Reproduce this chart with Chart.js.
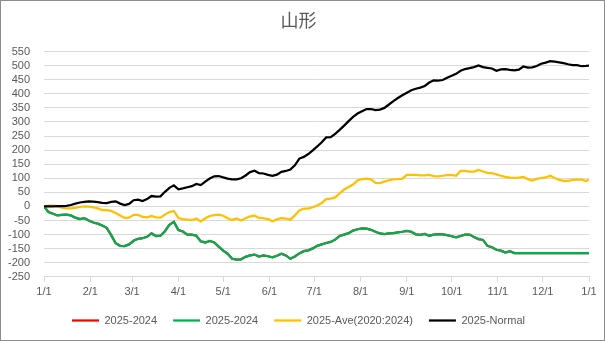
<!DOCTYPE html>
<html>
<head>
<meta charset="utf-8">
<script src="https://cdn.jsdelivr.net/npm/chart.js@4"></script>
<style>
  html, body { margin: 0; padding: 0; background: #fff; }
  #wrap { width: 605px; height: 341px; box-sizing: border-box; border: 1px solid #8c8c8c; }
  canvas { display: block; }
</style>
</head>
<body>
<div id="wrap"><canvas id="chart" width="603" height="339"></canvas></div>
<script>
// day of year (0 = 1/1)
const days = [
  0, 3, 6, 9, 12, 15, 18, 21, 24, 27,
  30, 33, 36, 39, 42, 45, 48, 51, 54, 57,
  60, 63, 66, 69, 72, 75, 78, 81, 84, 87,
  90, 93, 96, 99, 102, 105, 108, 111, 114, 117,
  120, 123, 126, 129, 132, 135, 138, 141, 144, 147,
  150, 153, 156, 159, 162, 165, 168, 171, 174, 177,
  180, 183, 186, 189, 192, 195, 198, 201, 204, 207,
  210, 213, 216, 219, 222, 225, 228, 231, 234, 237,
  240, 243, 246, 249, 252, 255, 258, 261, 264, 267,
  270, 273, 276, 279, 282, 285, 288, 291, 294, 297,
  300, 303, 306, 309, 312, 315, 318, 321, 324, 327,
  330, 333, 336, 339, 342, 345, 348, 351, 354, 357,
  360, 363, 365
];

// 2025-2024 (green, red lies underneath)
const diff2024 = [
  0, -20, -26, -32, -30, -29, -32, -40, -45, -42,
  -50, -57, -61, -68, -76, -102, -131, -140, -141, -135,
  -122, -115, -113, -108, -96, -105, -104, -88, -65, -55,
  -84, -89, -100, -100, -104, -124, -128, -123, -128, -143,
  -157, -168, -186, -189, -188, -179, -174, -171, -178, -174,
  -177, -181, -175, -168, -174, -186, -178, -167, -159, -156,
  -149, -140, -135, -130, -126, -118, -105, -100, -95, -86,
  -81, -78, -79, -83, -90, -96, -98, -96, -95, -92,
  -90, -87, -90, -99, -101, -98, -104, -100, -98, -99,
  -102, -106, -110, -105, -100, -100, -109, -116, -119, -140,
  -145, -154, -157, -164, -159, -166, -166, -166, -166, -166,
  -166, -166, -166, -166, -166, -166, -166, -166, -166, -166,
  -166, -166, -166
];

// 2025-Ave(2020:2024)
const diffAve = [
  0, 3, 3, 0, -4, -7, -7, -5, -2, 0,
  -1, -3, -7, -13, -13, -16, -23, -32, -41, -40,
  -30, -30, -37, -39, -34, -39, -40, -29, -20, -16,
  -41, -45, -47, -49, -43, -53, -42, -34, -31, -29,
  -33, -42, -48, -43, -50, -42, -35, -33, -41, -42,
  -45, -53, -46, -42, -43, -47, -32, -14, -8, -8,
  -3, 3, 12, 26, 28, 32, 46, 60, 69, 78,
  92, 97, 99, 96, 84, 83, 88, 93, 96, 97,
  99, 112, 112, 112, 110, 110, 112, 108, 107, 109,
  111, 112, 109, 126, 126, 124, 124, 130, 124, 119,
  118, 114, 109, 105, 102, 101, 102, 105, 97, 92,
  98, 101, 103, 109, 101, 94, 91, 91, 94, 95,
  95, 90, 95
];

// 2025-Normal
const diffNormal = [
  0, 0, 0, 1, 1, 2, 5, 10, 14, 16,
  18, 17, 15, 13, 12, 16, 18, 10, 5, 9,
  22, 24, 19, 26, 37, 35, 36, 52, 66, 75,
  61, 64, 68, 72, 80, 76, 88, 99, 107, 108,
  103, 99, 96, 96, 100, 110, 122, 127, 118, 117,
  112, 109, 113, 123, 126, 131, 146, 170, 176, 186,
  199, 213, 228, 245, 246, 258, 272, 287, 303, 318,
  330, 338, 346, 346, 342, 344, 350, 362, 374, 385,
  395, 404, 413, 418, 422, 428, 440, 448, 447, 449,
  457, 464, 471, 482, 488, 491, 495, 501, 495, 492,
  490, 482, 487, 488, 485, 483, 486, 497, 493, 494,
  499, 507, 511, 516, 514, 512, 509, 505, 502, 502,
  498, 499, 500
];

// x axis ticks
const monthDays = [0, 31, 59, 90, 120, 151, 181, 212, 243, 273, 304, 334, 365];
const monthLabels = ["1/1", "2/1", "3/1", "4/1", "5/1", "6/1", "7/1", "8/1", "9/1", "10/1", "11/1", "12/1", "1/1"];

const seriesNames = ["2025-2024", "2025-2024", "2025-Ave(2020:2024)", "2025-Normal"];
const seriesColors = ["#ff0000", "#00b050", "#ffc000", "#000000"];
const seriesValues = [diff2024, diff2024, diffAve, diffNormal];

const textColor = "#595959";
const gridColor = "#d9d9d9";
const font = "'Liberation Sans', Arial, sans-serif";

function toPoints(vals) {
  return days.map((d, i) => ({ x: d, y: vals[i] }));
}

new Chart(document.getElementById("chart").getContext("2d"), {
  type: "line",
  data: {
    datasets: seriesNames.map((name, i) => ({
      label: name,
      data: toPoints(seriesValues[i]),
      borderColor: seriesColors[i],
      backgroundColor: seriesColors[i],
      borderWidth: 2.25,
      pointRadius: 0,
      tension: 0,
      // later series painted on top, like Excel
      order: seriesNames.length - i,
    })),
  },
  options: {
    responsive: false,
    animation: false,
    devicePixelRatio: 1,
    layout: { padding: { left: 7, right: 15, top: 0, bottom: 4 } },
    plugins: {
      title: {
        display: true,
        text: "山形",
        color: textColor,
        font: { family: "'Noto Sans CJK JP', sans-serif", size: 18, weight: "normal" },
        padding: { top: 8, bottom: 21 },
      },
      legend: {
        position: "bottom",
        labels: {
          color: textColor,
          font: { family: font, size: 11 },
          usePointStyle: true,
          pointStyle: "line",
          pointStyleWidth: 27,
          padding: 16,
          sort: (a, b) => a.datasetIndex - b.datasetIndex,
        },
      },
      tooltip: { enabled: false },
    },
    scales: {
      x: {
        type: "linear",
        min: 0,
        max: 365,
        afterBuildTicks: (axis) => {
          axis.ticks = monthDays.map((v) => ({ value: v }));
        },
        afterFit: (axis) => {
          axis.height -= 4;
        },
        ticks: {
          color: textColor,
          font: { family: font, size: 11 },
          padding: 4,
          maxRotation: 0,
          autoSkip: false,
          callback: (value) => monthLabels[monthDays.indexOf(value)],
        },
        grid: {
          drawOnChartArea: false,
          drawTicks: true,
          tickLength: 5,
          color: gridColor,
        },
        border: { display: true, color: gridColor },
      },
      y: {
        min: -250,
        max: 550,
        afterFit: (axis) => {
          axis.width = 36;
        },
        ticks: {
          stepSize: 50,
          autoSkip: false,
          color: textColor,
          font: { family: font, size: 11 },
          padding: 14,
        },
        grid: { color: gridColor, drawTicks: false },
        border: { display: false },
      },
    },
  },
});
</script>
</body>
</html>
